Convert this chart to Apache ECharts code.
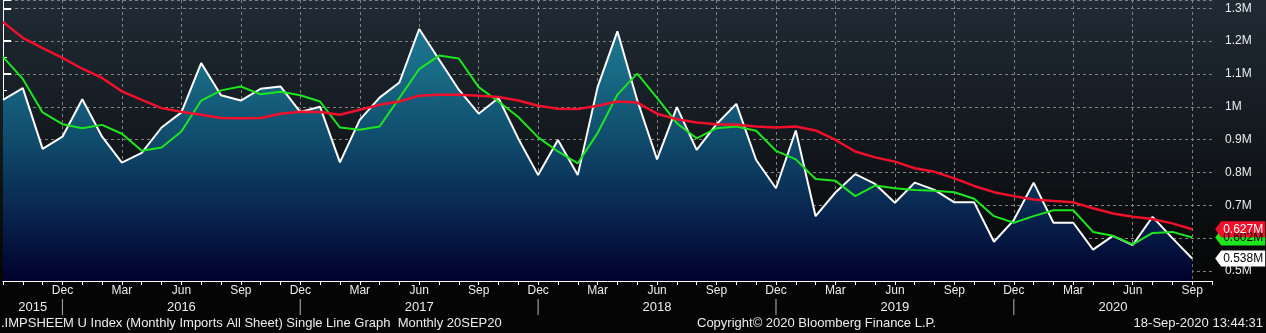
<!DOCTYPE html>
<html>
<head>
<meta charset="utf-8">
<script src="https://cdn.jsdelivr.net/npm/echarts@6/dist/echarts.min.js"></script>
<style>
html,body{margin:0;padding:0;background:#000;}
#c{width:1266px;height:333px;}
</style>
</head>
<body>
<div id="c"></div>
<script>
// Months, Sep 2015 .. Oct 2020 (last slot is empty axis space)
const months = [
 'Sep 2015','Oct 2015','Nov 2015','Dec 2015',
 'Jan 2016','Feb 2016','Mar 2016','Apr 2016','May 2016','Jun 2016','Jul 2016','Aug 2016','Sep 2016','Oct 2016','Nov 2016','Dec 2016',
 'Jan 2017','Feb 2017','Mar 2017','Apr 2017','May 2017','Jun 2017','Jul 2017','Aug 2017','Sep 2017','Oct 2017','Nov 2017','Dec 2017',
 'Jan 2018','Feb 2018','Mar 2018','Apr 2018','May 2018','Jun 2018','Jul 2018','Aug 2018','Sep 2018','Oct 2018','Nov 2018','Dec 2018',
 'Jan 2019','Feb 2019','Mar 2019','Apr 2019','May 2019','Jun 2019','Jul 2019','Aug 2019','Sep 2019','Oct 2019','Nov 2019','Dec 2019',
 'Jan 2020','Feb 2020','Mar 2020','Apr 2020','May 2020','Jun 2020','Jul 2020','Aug 2020','Sep 2020','Oct 2020'
];
// Monthly imports (millions)
const imports = [
 1.021,1.057,0.872,0.909,1.023,0.909,0.830,0.860,0.937,0.983,
 1.133,1.035,1.019,1.055,1.062,0.984,1.000,0.831,0.960,1.028,
 1.074,1.237,1.144,1.052,0.979,1.027,0.903,0.792,0.899,0.792,
 1.060,1.230,1.020,0.840,0.999,0.869,0.947,1.009,0.838,0.752,
 0.928,0.667,0.739,0.795,0.765,0.708,0.769,0.747,0.709,0.709,
 0.589,0.655,0.769,0.647,0.647,0.565,0.607,0.579,0.665,0.600,
 0.538
];
// Short moving average (green)
const avgShort = [
 1.152,1.085,0.983,0.947,0.935,0.945,0.918,0.866,0.876,0.925,
 1.019,1.050,1.062,1.038,1.046,1.035,1.016,0.937,0.930,0.940,
 1.027,1.115,1.156,1.147,1.060,1.016,0.969,0.907,0.864,0.828,
 0.920,1.037,1.101,1.027,0.950,0.904,0.935,0.940,0.927,0.866,
 0.840,0.780,0.775,0.728,0.760,0.752,0.747,0.744,0.740,0.720,
 0.667,0.647,0.667,0.685,0.685,0.619,0.607,0.581,0.616,0.619,
 0.602
];
// Long moving average (red)
const avgLong = [
 1.258,1.210,1.179,1.149,1.116,1.088,1.047,1.021,0.996,0.985,
 0.976,0.966,0.965,0.966,0.979,0.985,0.984,0.976,0.991,1.006,
 1.016,1.034,1.037,1.037,1.034,1.030,1.019,1.003,0.994,0.993,
 1.003,1.016,1.013,0.979,0.962,0.952,0.947,0.945,0.940,0.937,
 0.940,0.928,0.899,0.864,0.846,0.833,0.813,0.802,0.782,0.759,
 0.740,0.728,0.718,0.713,0.709,0.691,0.675,0.665,0.658,0.645,
 0.627
];
const quarterMonths = ['Dec','Mar','Jun','Sep'];
const yearLabels = ['2015','2016','2017','2018','2019','2020'];
const yearCenters = [1.5, 9, 21, 33, 45, 56];   // month index where each year label sits
const footerLeft = '.IMPSHEEM U Index (Monthly Imports All Sheet) Single Line Graph  Monthly 20SEP20';
const footerMid = 'Copyright\u00A9 2020 Bloomberg Finance L.P.';
const footerRight = '18-Sep-2020 13:44:31';

const FONT = 'Liberation Sans, Arial, sans-serif';
const TXT = '#ececec';
const Y_MIN = 0.4695, Y_MAX = 1.3253;
const isQuarter = (idx, val) => idx > 0 && quarterMonths.indexOf(String(val).split(' ')[0]) >= 0;
const fmtM = v => (Math.round(v * 1000) / 1000) + 'M';
const lastIdx = imports.length - 1;
// year-end separators: the December slots
const separatorIdx = [];
months.forEach((m, i) => { if (m.indexOf('Dec') === 0) separatorIdx.push(i); });

function tag(value, bg, fg) {
  return {
    symbol: 'path://M0,8L6,0H50V16H6Z',
    symbolSize: [50, 16],
    symbolOffset: [48, 0],
    symbolKeepAspect: false,
    silent: true,
    itemStyle: { color: bg },
    label: { show: true, position: 'inside', offset: [3, 0], color: fg, fontSize: 12, fontFamily: FONT,
             formatter: () => fmtM(value) },
    data: [{ coord: [lastIdx, value] }]
  };
}

const chart = echarts.init(document.getElementById('c'), null, { renderer: 'canvas' });
chart.setOption({
  animation: false,
  backgroundColor: {
    type: 'linear', x: 0, y: 0, x2: 0, y2: 281, global: true,
    colorStops: [
      { offset: 0, color: '#202b36' },
      { offset: 0.5, color: '#13181d' },
      { offset: 1, color: '#050505' }
    ]
  },
  title: [
    { text: footerLeft, left: 1, top: 317, padding: 0, textStyle: { color: TXT, fontSize: 13, fontWeight: 'normal', fontFamily: FONT } },
    { text: footerMid, left: 697, top: 317, padding: 0, textStyle: { color: TXT, fontSize: 13, fontWeight: 'normal', fontFamily: FONT } },
    { text: footerRight, right: 3, top: 317, padding: 0, textStyle: { color: TXT, fontSize: 13, fontWeight: 'normal', fontFamily: FONT } }
  ],
  grid: { left: 0, right: 54, top: 0, bottom: 52, containLabel: false },
  xAxis: [
    {
      type: 'category', data: months, boundaryGap: false, position: 'bottom',
      axisLine: { show: true, lineStyle: { color: '#ffffff', width: 1 } },
      axisTick: { show: true, interval: 0, length: 4, lineStyle: { color: '#ffffff' } },
      axisLabel: { show: true, interval: isQuarter, formatter: v => v.split(' ')[0],
                   color: TXT, fontSize: 12, fontFamily: FONT, margin: 4 },
      splitLine: { show: true, interval: isQuarter, lineStyle: { color: '#808080', type: [3, 3], width: 1 } }
    },
    {
      type: 'value', min: 0, max: months.length - 1, interval: 0.5, position: 'bottom', offset: 18,
      axisLine: { show: false }, axisTick: { show: false }, splitLine: { show: false },
      axisLabel: {
        show: true, color: TXT, fontSize: 13, fontFamily: FONT, margin: 2,
        showMinLabel: true, showMaxLabel: true,
        formatter: v => { const k = yearCenters.indexOf(v); return k >= 0 ? yearLabels[k] : ''; }
      }
    }
  ],
  yAxis: {
    type: 'value', position: 'right', min: Y_MIN, max: Y_MAX, splitNumber: 8, scale: true,
    axisLine: { show: true, lineStyle: { color: '#ffffff', width: 1 } },
    axisTick: { show: true, length: 8, lineStyle: { color: '#ffffff', width: 2 } },
    minorTick: { show: true, splitNumber: 2, length: 4, lineStyle: { color: '#ffffff', width: 1 } },
    axisLabel: { show: true, color: TXT, fontSize: 12, fontFamily: FONT, margin: 13,
                 showMinLabel: false, showMaxLabel: false,
                 formatter: v => (Math.round(v * 10) / 10) + 'M' },
    splitLine: { show: true, lineStyle: { color: '#808080', type: [3, 3], width: 1 } }
  },
  series: [
    {
      name: 'Imports', type: 'line', data: imports, xAxisIndex: 0, symbol: 'none',
      lineStyle: { color: '#ffffff', width: 2 },
      areaStyle: {
        origin: 'start',
        color: {
          type: 'linear', x: 0, y: 0, x2: 0, y2: 281, global: true,
          colorStops: [
            { offset: 0, color: '#1f7d96' },
            { offset: 0.25, color: '#196b86' },
            { offset: 0.5, color: '#104b6c' },
            { offset: 0.75, color: '#082650' },
            { offset: 1, color: '#01012c' }
          ]
        },
        opacity: 1
      },
      z: 2,
      markPoint: tag(imports[lastIdx], '#ffffff', '#000000')
    },
    {
      name: 'Short avg', type: 'line', data: avgShort, xAxisIndex: 0, symbol: 'none',
      lineStyle: { color: '#1ee61e', width: 2 }, z: 3,
      markPoint: tag(avgShort[lastIdx], '#1ee61e', '#000000')
    },
    {
      name: 'Long avg', type: 'line', data: avgLong, xAxisIndex: 0, symbol: 'none',
      lineStyle: { color: '#f0102c', width: 2.5 }, z: 4,
      markPoint: tag(avgLong[lastIdx], '#f0102c', '#ffffff')
    },
    {
      // year-end separator marks hanging below the month labels
      name: 'Year separators', type: 'scatter', xAxisIndex: 0,
      data: separatorIdx.map(i => [i, Y_MIN]),
      symbol: 'rect', symbolSize: [1.2, 16], symbolOffset: [0, 26],
      clip: false, silent: true,
      itemStyle: { color: '#9a9a9a', opacity: 1 }, z: 10
    }
  ]
});
</script>
</body>
</html>
